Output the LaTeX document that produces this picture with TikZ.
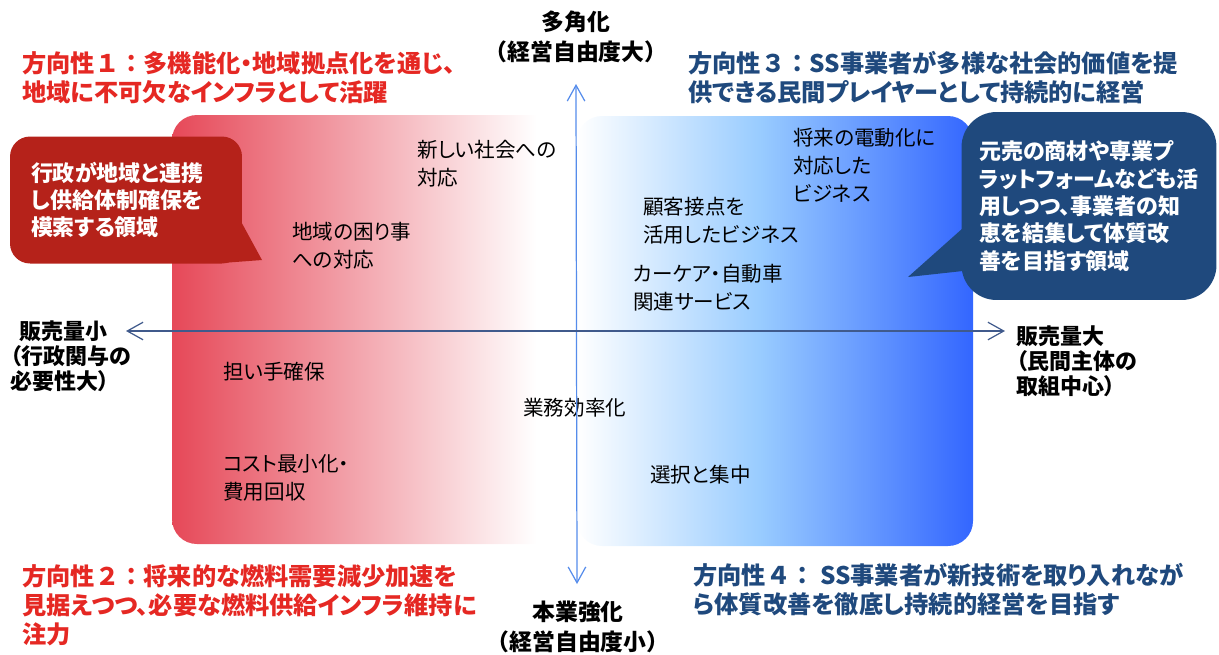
\documentclass[tikz,border=0pt]{standalone}
\usepackage{fontspec}
\setmainfont{Noto Sans CJK JP}[RawFeature=+palt]
\newfontfamily\widejp{Noto Sans CJK JP}
\usetikzlibrary{arrows.meta}

\definecolor{titlered}{RGB}{229,40,35}
\definecolor{titleblue}{RGB}{31,73,125}
\definecolor{callred}{RGB}{181,34,26}
\definecolor{callblue}{RGB}{31,73,125}
\definecolor{fadered}{RGB}{230,72,88}
\definecolor{fademid}{RGB}{153,204,255}
\definecolor{fadeblue}{RGB}{51,102,255}
\definecolor{axisdark}{RGB}{64,90,140}
\definecolor{axislight}{RGB}{85,140,235}

\pgfdeclarehorizontalshading{redfade}{100bp}{color(0bp)=(fadered); color(25bp)=(fadered); color(70bp)=(white); color(100bp)=(white)}
\pgfdeclarehorizontalshading{bluefade}{100bp}{color(0bp)=(white); color(25bp)=(white); color(48bp)=(fademid); color(75bp)=(fadeblue); color(100bp)=(fadeblue)}

\newcommand{\widenum}[1]{{\widejp #1}}

\begin{document}
\begin{tikzpicture}[x=0.02cm,y=-0.02cm,
  title/.style={font=\bfseries\fontsize{13.8}{16.5}\selectfont,align=left,anchor=west,inner sep=0pt},
  item/.style={font=\fontsize{11.7}{16}\selectfont,align=left,anchor=west,inner sep=0pt},
  axislabel/.style={font=\widejp\bfseries\fontsize{13}{17}\selectfont,align=center,inner sep=0pt},
  sidelabel/.style={font=\bfseries\fontsize{12.5}{14.2}\selectfont,align=left,anchor=west,inner sep=0pt},
  callout/.style={font=\bfseries\fontsize{12.5}{15.6}\selectfont,text=white,align=left,inner sep=0pt},
  barb/.tip={Straight Barb[length=9pt,width=10pt]}]
\useasboundingbox (0,0) rectangle (1219,654);

%areas
\shade[shading=redfade,rounded corners=0.5cm] (172,115) rectangle (577,544);
\shade[shading=bluefade,rounded corners=0.5cm] (577,116) rectangle (973,546);

%items
\foreach \px/\py/\txt [count=\i] in {417/164/{新しい社会への\\対応},
    292/246/{地域の困り事\\への対応},
    793/165/{将来の電動化に\\対応した\\ビジネス},
    643/221/{顧客接点を\\活用したビジネス},
    633/288/{カーケア・自動車\\関連サービス},
    223/372/{担い手確保},
    223/478/{コスト最小化・\\費用回収},
    523/408/{業務効率化},
    650/475/{選択と集中}} {
  \node[item] (item\i) at (\px,\py) {\txt};
}

%axes
\node[axislabel] (multi) at (576,37) {多角化\\（経営自由度大）};
\node[axislabel] (core) at (578,627) {本業強化\\（経営自由度小）};
\node[sidelabel] (low) at (10,356) {\hspace{0.4em}販売量小\\（行政関与の\\必要性大）};
\node[sidelabel] (high) at (1016,361) {販売量大\\（民間主体の\\取組中心）};
\coordinate (ytop) at (576,84);
\coordinate (ybot) at (577,584);
\coordinate (xlow) at (126,331);
\coordinate (xhigh) at (1005,331);
\draw[axislight,line width=0.7pt,barb-barb] (ytop) -- (ybot);
\draw[axisdark,line width=0.7pt,barb-barb] (xlow) -- (xhigh);

%titles
\node[title,text=titlered] (dir1) at (22,78) {方向性\widenum{１：}多機能化・地域拠点化を通じ、\\地域に不可欠なインフラとして活躍};
\node[title,text=titlered] (dir2) at (22,605) {方向性\widenum{２：}将来的な燃料需要減少加速を\\見据えつつ、必要な燃料供給インフラ維持に\\注力};
\node[title,text=titleblue] (dir3) at (688,78) {方向性\widenum{３：}SS事業者が多様な社会的価値を提\\供できる民間プレイヤーとして持続的に経営};
\node[title,text=titleblue] (dir4) at (693,590) {方向性\widenum{４：} SS事業者が新技術を取り入れなが\\ら体質改善を徹底し持続的経営を目指す};

%callouts
\coordinate (govttip) at (262,260);
\fill[callred] (232,205) -- (govttip) -- (222,263) -- cycle;
\node[callout,fill=callred,rounded corners=0.4cm,text width=3.8cm,inner xsep=0.42cm,minimum height=2.54cm] (govt) at (126,200) {行政が地域と連携\\し供給体制確保を\\模索する領域};
\coordinate (firmtip) at (908,277);
\fill[callblue] (972,220) -- (firmtip) -- (972,270) -- cycle;
\node[callout,fill=callblue,rounded corners=0.7cm,minimum width=5.1cm,minimum height=3.76cm] (firm) at (1089,206) {元売の商材や専業プ\\ラットフォームなども活\\用しつつ、事業者の知\\恵を結集して体質改\\善を目指す領域};
\end{tikzpicture}
\end{document}
